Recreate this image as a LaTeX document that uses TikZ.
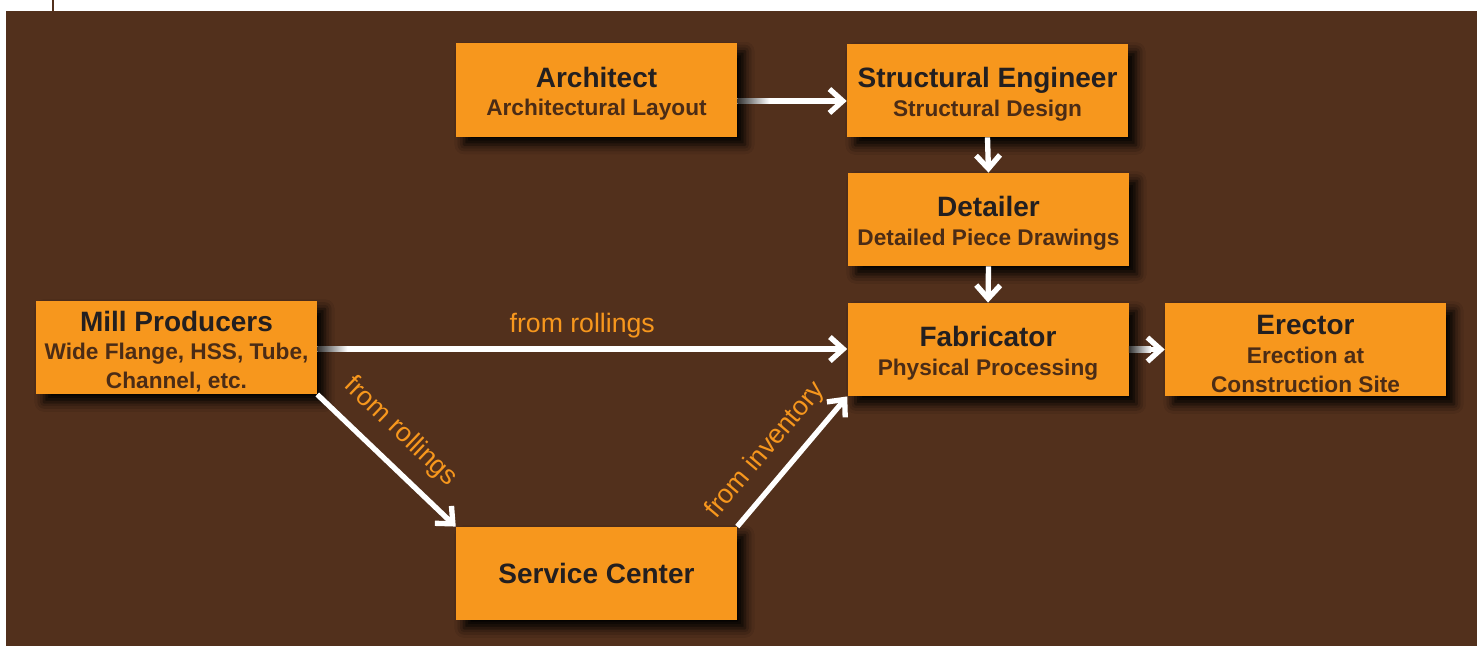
\documentclass[tikz,border=0pt]{standalone}
\usepackage{fontspec}
\setmainfont{Liberation Sans}
\usetikzlibrary{arrows.meta,shadows.blur,calc}
\definecolor{bg}{HTML}{52301C}
\definecolor{org}{HTML}{F7971D}
\definecolor{ttlc}{HTML}{231F20}
\definecolor{subc}{HTML}{4B2C16}
\newcommand\ttlf{\fontsize{21}{21.5}\selectfont\color{ttlc}}
\newcommand\tstrut{\rule{0pt}{21pt}}
\begin{document}
\begin{tikzpicture}[x=0.75pt,y=-0.75pt,
  box/.style={fill=org, minimum width=210.75pt, minimum height=70pt, align=center, inner sep=0pt,
    blur shadow={shadow xshift=6pt, shadow yshift=-6pt, shadow blur radius=7pt, shadow opacity=100},
    font=\fontsize{17}{21.5}\selectfont\bfseries, text=subc},
  arr/.style={draw=white, line width=4pt, -{Straight Barb[length=10pt,width=18pt]}},
  lbl/.style={text=org, font=\fontsize{20}{21}\selectfont},
  fade/.style={left color=black!80, right color=white}]
\path[use as bounding box] (0,0) rectangle (1480,646);
\fill[bg] (6,11) rectangle (1477,646);
\draw[bg, line width=1.5pt] (53,0) -- (53,11);

\node[box] (arch) at (596.5,90) {{\ttlf\tstrut Architect}\\Architectural Layout};
\node[box] (se) at (987.5,90.5) {{\ttlf\tstrut Structural Engineer}\\Structural Design};
\node[box] (det) at (988.5,219.5) {{\ttlf\tstrut Detailer}\\Detailed Piece Drawings};
\node[box] (fab) at (988,349.5) {{\ttlf\tstrut Fabricator}\\Physical Processing};
\node[box] (erec) at (1305.5,349.5) {{\ttlf\tstrut Erector}\\Erection at\\Construction Site};
\node[box] (mill) at (176.5,347.5) {{\ttlf\tstrut Mill Producers}\\Wide Flange, HSS, Tube,\\Channel, etc.};
\node[box] (serv) at (596.5,573.5) {\ttlf Service Center};

% Architect -> Structural Engineer
\coordinate (a1) at ($(arch.east)+(0,11)$);
\draw[arr] (a1) -- (a1 -| se.west);
\shade[fade] ($(a1)+(0,-2.7)$) rectangle ($(a1)+(32,2.7)$);

% vertical arrows
\draw[arr] (se.south) -- (det.north);
\draw[arr] (det.south) -- (fab.north);

% Fabricator -> Erector
\coordinate (f1) at (fab.east);
\draw[arr] (f1) -- (f1 -| erec.west);
\shade[fade] ($(f1)+(0,-2.7)$) rectangle ($(f1)+(22,2.7)$);

% Mill -> Fabricator
\coordinate (m1) at ($(mill.east)+(0,1.5)$);
\draw[arr] (m1) -- node[midway, above=3pt, lbl] (l1) {from rollings} (m1 -| fab.west);
\shade[fade] ($(m1)+(0,-2.7)$) rectangle ($(m1)+(30,2.7)$);

% Mill -> Service Center
\draw[arr] (mill.south east) -- node[pos=0.45, sloped, above=8pt, lbl] (l2) {from rollings} (serv.north west);

% Service Center -> Fabricator
\draw[arr] (serv.north east) -- node[pos=0.45, sloped, above=6pt, lbl] (l3) {from inventory} (fab.south west);
\end{tikzpicture}
\end{document}
